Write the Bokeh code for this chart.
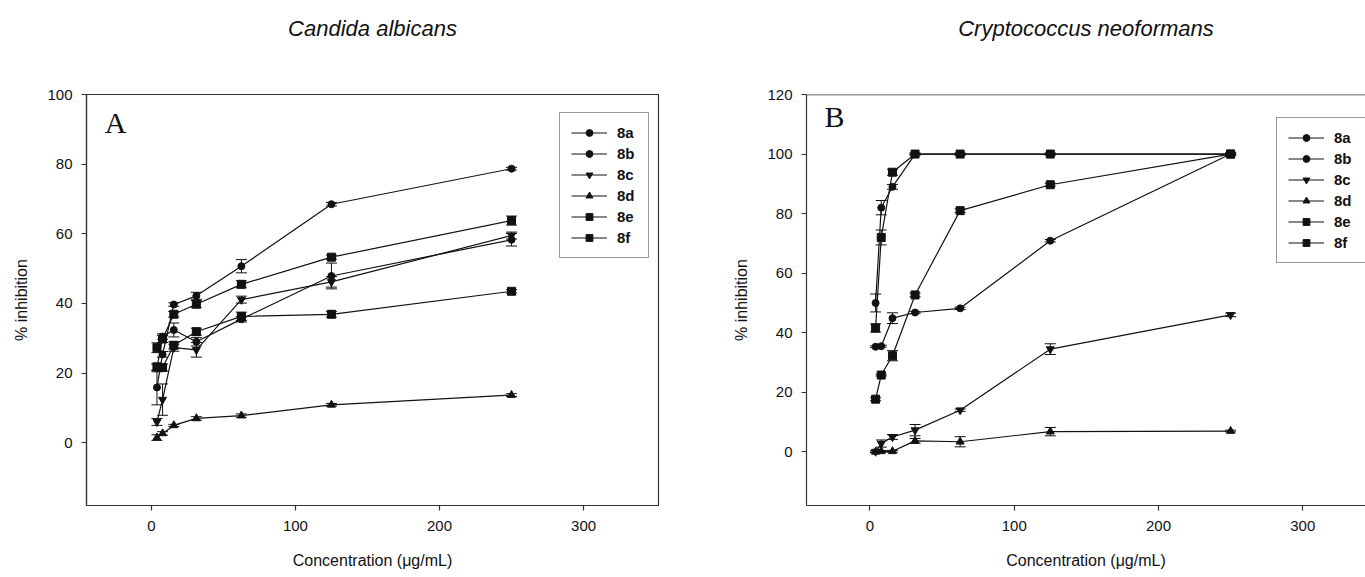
from bokeh.plotting import figure
from bokeh.models import (ColumnDataSource, Whisker, TeeHead, Legend, LegendItem,
                          Label, Range1d, FixedTicker, Span, LinearAxis)
from bokeh.layouts import row
from bokeh.embed import file_html
from bokeh.resources import INLINE

# ---------------- data ----------------
conc = [3.9, 7.8, 15.6, 31.25, 62.5, 125, 250]
names = ["8a", "8b", "8c", "8d", "8e", "8f"]
markers = ["circle", "circle", "inverted_triangle", "triangle", "square", "square"]
msizes = [7, 7, 8, 8, 8, 8]

# Panel A - Candida albicans
a_8a = [15.9, 25.4, 39.7, 42.2, 50.7, 68.5, 78.7]
a_8b = [21.4, 30.5, 32.4, 29.0, 35.5, 47.9, 58.3]
a_8c = [6.0, 12.4, 27.3, 26.7, 41.1, 46.2, 59.5]
a_8d = [1.5, 2.7, 5.0, 7.0, 7.8, 10.9, 13.7]
a_8e = [27.3, 29.8, 36.9, 39.8, 45.5, 53.3, 63.8]
a_8f = [21.8, 21.6, 28.0, 31.9, 36.3, 36.9, 43.5]
a_err_8a = [5.0, 0.8, 0.5, 1.0, 1.9, 0.5, 0.4]
a_err_8b = [1.0, 0.8, 2.0, 1.2, 0.8, 3.7, 1.8]
a_err_8c = [1.0, 4.5, 1.0, 2.1, 1.0, 1.5, 1.0]
a_err_8d = [0.8, 0.5, 0.3, 0.5, 0.5, 0.4, 0.4]
a_err_8e = [1.4, 1.0, 0.8, 1.0, 1.0, 0.6, 1.3]
a_err_8f = [1.0, 1.0, 1.0, 1.0, 1.2, 0.8, 0.5]

# Panel B - Cryptococcus neoformans
b_8a = [50.0, 82.0, 89.0, 100, 100, 100, 100]
b_8b = [35.3, 35.5, 44.9, 46.8, 48.2, 70.9, 100]
b_8c = [0.1, 2.8, 5.0, 7.3, 14.0, 34.5, 46.0]
b_8d = [0.0, 0.2, 0.2, 3.7, 3.4, 6.8, 7.0]
b_8e = [17.7, 25.8, 32.3, 52.7, 81.0, 89.7, 100]
b_8f = [41.6, 72.0, 93.9, 100, 100, 100, 100]
b_err_8a = [3.0, 2.4, 0.8, 0.3, 0.3, 0.3, 0.3]
b_err_8b = [0.3, 0.3, 1.8, 0.4, 0.4, 0.4, 0.3]
b_err_8c = [0.3, 1.2, 0.8, 1.9, 0.4, 1.8, 0.6]
b_err_8d = [0.3, 0.3, 0.3, 0.8, 1.7, 1.4, 0.3]
b_err_8e = [0.5, 0.3, 1.7, 0.6, 0.6, 0.5, 0.3]
b_err_8f = [1.4, 2.5, 1.0, 0.3, 0.3, 0.3, 0.3]

x_ticks = [0, 100, 200, 300]
a_y_ticks = [0, 20, 40, 60, 80, 100]
b_y_ticks = [0, 20, 40, 60, 80, 100, 120]

FONT = "Liberation Sans"
INK = "#111111"
FRAME = "#333333"
FIG_H = 577
TOP = 94


def make_panel(title, letter, letter_xy, series, errs, xr, yr, yticks,
               width, mb_left, mb_right, frame_h, legend_loc, outline):
    p = figure(width=width, height=FIG_H, x_range=Range1d(*xr), y_range=Range1d(*yr),
               output_backend="svg", toolbar_location=None,
               min_border_left=mb_left, min_border_right=mb_right,
               min_border_top=TOP, min_border_bottom=FIG_H - TOP - frame_h,
               background_fill_color="white", border_fill_color="white")
    p.xgrid.visible = False
    p.ygrid.visible = False
    if outline:
        p.outline_line_color = FRAME
        p.outline_line_width = 1.2
    else:
        p.outline_line_color = None
        p.add_layout(Span(location=yr[1], dimension="width", line_color=FRAME,
                          line_width=1.5))

    p.xaxis.ticker = FixedTicker(ticks=x_ticks)
    p.yaxis.ticker = FixedTicker(ticks=yticks)
    for ax in (p.xaxis, p.yaxis):
        ax.axis_line_color = FRAME
        ax.axis_line_width = 1.2
        ax.major_tick_line_color = FRAME
        ax.major_tick_line_width = 1.2
        ax.major_tick_out = 5
        ax.major_tick_in = 0
        ax.minor_tick_line_color = None
        ax.major_label_text_font = FONT
        ax.major_label_text_font_size = "15px"
        ax.major_label_text_color = INK
        ax.axis_label_text_font = FONT
        ax.axis_label_text_font_size = "16px"
        ax.axis_label_text_font_style = "normal"
        ax.axis_label_text_color = INK
    p.xaxis.axis_label = "Concentration (\u03bcg/mL)"
    p.yaxis.axis_label = "% inhibition"
    p.xaxis.major_label_standoff = 10
    p.xaxis.axis_label_standoff = 18
    p.yaxis.major_label_standoff = 9
    p.yaxis.axis_label_standoff = 14

    # panel title carried by a tick-less axis above the frame
    top_ax = LinearAxis(ticker=FixedTicker(ticks=[]), axis_line_color=None,
                        major_tick_line_color=None, minor_tick_line_color=None,
                        major_tick_out=0, major_tick_in=0, major_label_standoff=0,
                        major_label_text_font_size="0px",
                        axis_label=title, axis_label_standoff=54,
                        axis_label_text_font=FONT, axis_label_text_font_style="italic",
                        axis_label_text_font_size="22px", axis_label_text_color=INK)
    p.add_layout(top_ax, "above")

    items = []
    for name, mk, ms, ys, es in zip(names, markers, msizes, series, errs):
        src = ColumnDataSource(dict(x=conc, y=ys,
                                    upper=[v + e for v, e in zip(ys, es)],
                                    lower=[v - e for v, e in zip(ys, es)]))
        w = Whisker(source=src, base="x", upper="upper", lower="lower",
                    dimension="height", line_color=INK, line_width=1,
                    upper_head=TeeHead(size=11, line_color=INK, line_width=1),
                    lower_head=TeeHead(size=11, line_color=INK, line_width=1))
        p.add_layout(w)
        lr = p.line("x", "y", source=src, line_color=INK, line_width=1.2)
        sr = p.scatter("x", "y", source=src, marker=mk, size=ms,
                       fill_color=INK, line_color=INK)
        items.append(LegendItem(label=name, renderers=[lr, sr]))

    leg = Legend(items=items, location=legend_loc, glyph_width=36, glyph_height=17,
                 label_height=17, spacing=4, padding=11, label_standoff=10, margin=0,
                 label_text_font=FONT, label_text_font_style="bold",
                 label_text_font_size="15px", label_text_color=INK,
                 border_line_color=FRAME, border_line_width=1,
                 background_fill_color="white", background_fill_alpha=1)
    p.add_layout(leg)

    p.add_layout(Label(x=letter_xy[0], y=letter_xy[1], text=letter,
                       text_font="Liberation Serif", text_font_size="30px",
                       text_color=INK, text_baseline="alphabetic"))
    return p


pa = make_panel("Candida albicans", "A", (-32.3, 92.0),
                [a_8a, a_8b, a_8c, a_8d, a_8e, a_8f],
                [a_err_8a, a_err_8b, a_err_8c, a_err_8d, a_err_8e, a_err_8f],
                (-45, 352), (-18, 100), a_y_ticks,
                width=730, mb_left=86, mb_right=72, frame_h=413,
                legend_loc=(473, 247), outline=True)

pb = make_panel("Cryptococcus neoformans", "B", (-31.6, 112.5),
                [b_8a, b_8b, b_8c, b_8d, b_8e, b_8f],
                [b_err_8a, b_err_8b, b_err_8c, b_err_8d, b_err_8e, b_err_8f],
                (-44, 343.5), (-18, 120), b_y_ticks,
                width=635, mb_left=75, mb_right=0, frame_h=411,
                legend_loc=(470, 242), outline=False)

layout = row(pa, pb)
open("out.html", "w").write(file_html(layout, INLINE))
